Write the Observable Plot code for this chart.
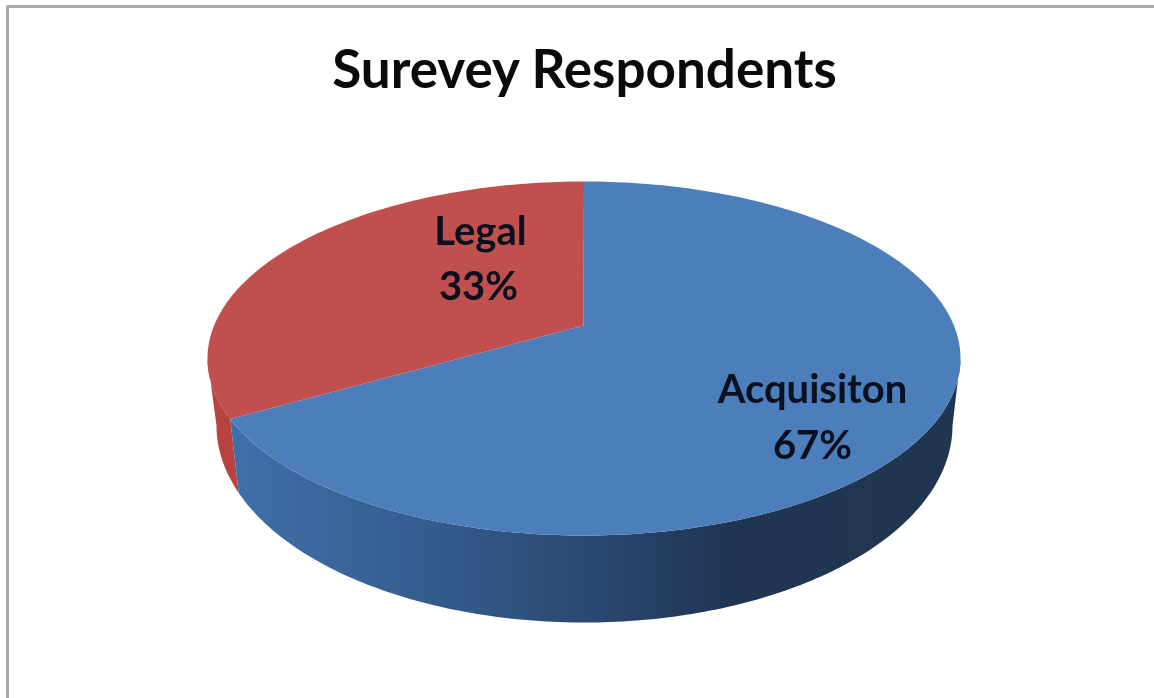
<!DOCTYPE html>
<html>
<head>
<meta charset="utf-8">
<style>html,body{margin:0;padding:0;background:#fff}svg{display:block;filter:blur(0.5px)}</style>
<script src="https://cdn.jsdelivr.net/npm/d3@7"></script>
<script src="https://cdn.jsdelivr.net/npm/@observablehq/plot@0.6"></script>
</head>
<body>
<script>
const chartTitle = "Surevey Respondents";
const categories = ["Acquisiton", "Legal"];
const shares = [67, 33];
const topColors = ["#4b7ebb", "#c0504d"];
const sideRed = "#b8423d";

const W = 1154, H = 698;
// projection of the tilted pie onto the page
const top3d = {cx: 583.5, cy: 358, rx: 376.5, ry: 177};
const bottom3d = {cx: 584, cy: 425, rx: 368, ry: 197};
const apex = {x: 583, y: 325};
const foreshorten = 110 / 118.8; // perspective squeezes the rear slice
const at = (e, deg) => {
  const a = deg * Math.PI / 180;
  return {x: e.cx + e.rx * Math.sin(a), y: e.cy - e.ry * Math.cos(a)};
};
const arc = (e, from, to) => {
  const n = Math.max(2, Math.ceil(Math.abs(to - from)));
  return d3.range(n + 1).map(i => at(e, from + (to - from) * i / n));
};
const boundary = 360 - shares[1] / 100 * 360 * foreshorten;

const topBlue = [apex, ...arc(top3d, 0, boundary)];
const topRed = [apex, ...arc(top3d, boundary, 360)];
const sideBlue = [...arc(top3d, 90, boundary), ...arc(bottom3d, boundary, 90)];
const sideLegal = [...arc(top3d, boundary, 270), ...arc(bottom3d, 270, boundary)];

const poly = (pts, fill) => Plot.line(pts, {x: "x", y: "y", curve: "linear-closed", fill, stroke: "none"});

const gradient = () => {
  const svg = d3.create("svg:defs");
  const g = svg.append("linearGradient").attr("id", "sideGrad").attr("x1", 0).attr("x2", 1).attr("y1", 0).attr("y2", 0);
  [[0, "#3f70a9"], [0.25, "#365e90"], [0.5, "#2a4870"], [0.68, "#1f3553"], [1, "#20364f"]]
    .forEach(([o, c]) => g.append("stop").attr("offset", o).attr("stop-color", c));
  return svg.node();
};

const labels = [
  {text: categories[1], x: 480, y: 232},
  {text: shares[1] + "%", x: 478, y: 287},
  {text: categories[0], x: 812, y: 390},
  {text: shares[0] + "%", x: 812, y: 446}
];

document.body.append(Plot.plot({
  width: W, height: H,
  margin: 0,
  x: {domain: [0, W], range: [0, W], axis: null},
  y: {domain: [0, H], range: [0, H], axis: null},
  marks: [
    gradient,
    Plot.ruleY([6], {x1: 7, x2: W, stroke: "#a8a8a8", strokeWidth: 3}),
    Plot.ruleX([7], {y1: 6, y2: H, stroke: "#a8a8a8", strokeWidth: 3}),
    poly(sideLegal, sideRed),
    poly(sideBlue, "url(#sideGrad)"),
    poly(topBlue, topColors[0]),
    poly(topRed, topColors[1]),
    Plot.text([chartTitle], {
      x: () => 584, y: () => 71, text: d => d,
      fontFamily: "Lato", fontWeight: 700, fontSize: 53, fill: "#0a0a0a"
    }),
    Plot.text(labels, {
      x: "x", y: "y", text: "text",
      fontFamily: "Lato", fontWeight: 700, fontSize: 40, fill: "#0b1020"
    })
  ]
}));
</script>
</body>
</html>
